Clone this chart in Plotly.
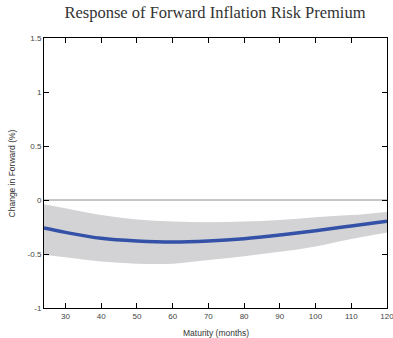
import plotly.graph_objects as go

maturity = [24, 30, 40, 50, 60, 70, 80, 90, 100, 110, 120]
response = [-0.26, -0.30, -0.355, -0.38, -0.39, -0.38, -0.358, -0.324, -0.284, -0.241, -0.197]
upper = [-0.04, -0.077, -0.14, -0.18, -0.20, -0.207, -0.20, -0.185, -0.16, -0.14, -0.11]
lower = [-0.51, -0.53, -0.57, -0.59, -0.59, -0.556, -0.52, -0.48, -0.43, -0.36, -0.30]

xticks = [30, 40, 50, 60, 70, 80, 90, 100, 110, 120]
yticks = [-1, -0.5, 0, 0.5, 1, 1.5]
ytick_text = ["-1", "-0.5", "0", "0.5", "1", "1.5"]

fig = go.Figure()
fig.add_trace(go.Scatter(x=maturity, y=upper, mode="lines", line=dict(width=0, shape="spline"),
                         showlegend=False, hoverinfo="skip"))
fig.add_trace(go.Scatter(x=maturity, y=lower, mode="lines", line=dict(width=0, shape="spline"),
                         fill="tonexty", fillcolor="#d3d3d5", showlegend=False, hoverinfo="skip"))
fig.add_trace(go.Scatter(x=[24, 120], y=[0, 0], mode="lines", line=dict(color="#8c8c8c", width=1),
                         showlegend=False, hoverinfo="skip"))
fig.add_trace(go.Scatter(x=maturity, y=response, mode="lines",
                         line=dict(color="#3451a8", width=3.5, shape="spline"), showlegend=False))

axis_common = dict(showgrid=False, zeroline=False, showline=True, linecolor="black", linewidth=1,
                   mirror="ticks", ticks="inside", ticklen=5, tickcolor="black", automargin=False,
                   ticklabeloverflow="allow",
                   tickfont=dict(family="Liberation Sans, Arial", size=8, color="#444"))
fig.update_xaxes(range=[24, 120], tickvals=xticks, **axis_common)
fig.update_yaxes(range=[-1, 1.5], tickvals=yticks, ticktext=ytick_text, **axis_common)

fig.update_layout(
    width=393, height=338,
    margin=dict(l=44, r=6, t=38, b=30, autoexpand=False),
    plot_bgcolor="white", paper_bgcolor="white",
    title=dict(text="Response of Forward Inflation Risk Premium", x=0.547, xanchor="center",
               y=0.963, yanchor="middle", automargin=False,
               font=dict(family="Liberation Serif, serif", size=16.5, color="#333")),
    annotations=[
        dict(text="Maturity (months)", xref="paper", yref="paper", x=0.5, y=-0.093,
             xanchor="center", yanchor="middle", showarrow=False,
             font=dict(family="Liberation Sans, Arial", size=8.5, color="#333")),
        dict(text="Change in Forward (%)", xref="paper", yref="paper", x=-0.092, y=0.5,
             xanchor="center", yanchor="middle", showarrow=False, textangle=-90,
             font=dict(family="Liberation Sans, Arial", size=8.5, color="#333")),
    ],
)

fig.write_html("out.html", config={"displayModeBar": False},
               post_script="document.body.style.margin='0';document.body.style.overflow='hidden';")
